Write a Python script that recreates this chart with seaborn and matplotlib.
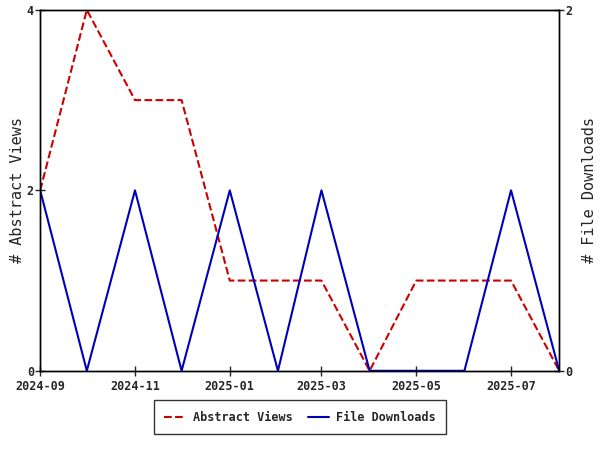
import pandas as pd
import matplotlib
matplotlib.use('Agg')
import matplotlib.pyplot as plt
import matplotlib.dates as mdates
import seaborn as sns

# data
months = ['2024-09', '2024-10', '2024-11', '2024-12', '2025-01', '2025-02',
          '2025-03', '2025-04', '2025-05', '2025-06', '2025-07', '2025-08']
abstract_views = [2, 4, 3, 3, 1, 1, 1, 0, 1, 1, 1, 0]
file_downloads = [1, 0, 1, 0, 1, 0, 1, 0, 0, 0, 1, 0]

df = pd.DataFrame({'month': pd.to_datetime(months),
                   'views': abstract_views,
                   'downloads': file_downloads})

sns.set_style('ticks')
plt.rcParams['font.family'] = ['DejaVu Sans Mono']
plt.rcParams['font.weight'] = 'bold'

red = '#cc0000'
blue = '#0000bb'

fig, ax = plt.subplots(figsize=(6, 4.5), dpi=100)
fig.subplots_adjust(left=0.067, right=0.932, top=0.978, bottom=0.176)
ax2 = ax.twinx()

sns.lineplot(data=df, x='month', y='views', ax=ax, color=red, linestyle='--',
             linewidth=1.5, label='Abstract Views', legend=False)
sns.lineplot(data=df, x='month', y='downloads', ax=ax2, color=blue,
             linewidth=1.5, label='File Downloads', legend=False)

ax.set_xlim(df['month'].iloc[0], df['month'].iloc[-1])
ax.set_ylim(0, 4)
ax2.set_ylim(0, 2)
ax.set_yticks([0, 2, 4])
ax2.set_yticks([0, 2])
ax.xaxis.set_major_locator(mdates.MonthLocator(bymonth=[1, 3, 5, 7, 9, 11]))
ax.xaxis.set_major_formatter(mdates.DateFormatter('%Y-%m'))

ax.set_xlabel('')
ax.set_ylabel('# Abstract Views', fontsize=11, fontweight='normal', labelpad=1.5)
ax2.set_ylabel('# File Downloads', fontsize=11, fontweight='normal', labelpad=7)

for a in (ax, ax2):
    a.tick_params(labelsize=8.5, direction='inout', length=7, width=1, pad=1)
    for s in a.spines.values():
        s.set_linewidth(1)
        s.set_color('black')
ax.tick_params(axis='x', pad=3)

h1, l1 = ax.get_legend_handles_labels()
h2, l2 = ax2.get_legend_handles_labels()
leg = fig.legend(h1 + h2, l1 + l2, loc='center', bbox_to_anchor=(0.5, 0.073),
                 ncol=2, frameon=True, fancybox=False, edgecolor='black',
                 fontsize=8.5, handlelength=1.8, handletextpad=0.6,
                 borderpad=0.9, columnspacing=1.3)
leg.get_frame().set_linewidth(1)

fig.savefig('out.png', dpi=100)
